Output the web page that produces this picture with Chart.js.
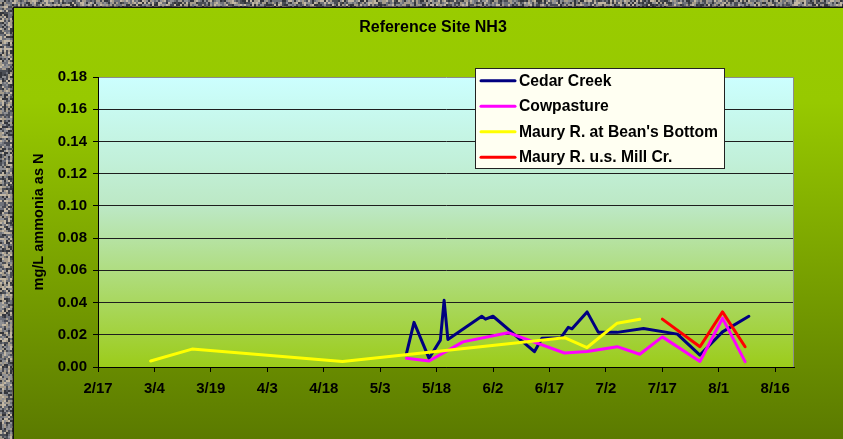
<!DOCTYPE html>
<html>
<head>
<meta charset="utf-8">
<script src="https://cdn.jsdelivr.net/npm/chart.js@4"></script>
<style>
  html, body { margin: 0; padding: 0; background: #5f6167; }
  #wrap { position: relative; width: 843px; height: 439px; }
  canvas { display: block; }
</style>
</head>
<body>
<div id="wrap"><canvas id="c" width="843" height="439"></canvas></div>
<script>
// ---- data ----
const chartTitle = 'Reference Site NH3';
const yAxisTitle = 'mg/L ammonia as N';
const tickLabels = ['2/17','3/4','3/19','4/3','4/18','5/3','5/18','6/2','6/17','7/2','7/17','8/1','8/16'];

const seriesNames = ['Cedar Creek', 'Cowpasture', "Maury R. at Bean's Bottom", 'Maury R. u.s. Mill Cr.'];

const cedarDates  = ['5/10','5/12','5/16','5/19','5/20','5/21','5/30','5/31','6/2','6/13','6/15','6/20','6/22','6/23','6/27','6/30','7/5','7/12','7/21','7/27','8/2','8/9'];
const cedarValues = [0.0085,0.0277,0.0054,0.0167,0.0414,0.0171,0.0315,0.0297,0.0315,0.0095,0.0178,0.0181,0.0246,0.0237,0.0342,0.0215,0.0215,0.0239,0.0204,0.0074,0.0218,0.0315];

const cowDates  = ['5/10','5/16','5/25','6/6','6/21','6/27','7/5','7/11','7/17','7/27','8/2','8/8'];
const cowValues = [0.0054,0.0037,0.0156,0.0213,0.0087,0.0096,0.0126,0.0079,0.0187,0.0034,0.0303,0.0033];

const beanDates  = ['3/3','3/14','4/23','6/21','6/27','7/5','7/11'];
const beanValues = [0.0037,0.0111,0.0034,0.0182,0.0121,0.0272,0.0297];

const millDates  = ['7/17','7/27','8/2','8/8'];
const millValues = [0.0297,0.0126,0.0342,0.0126];

const seriesColors = ['#000080', '#ff00ff', '#ffff00', '#ff0000'];

// ---- helpers ----
// days elapsed since 2/17 (non-leap year)
const monthOffset = {2: -17, 3: 11, 4: 42, 5: 72, 6: 103, 7: 133, 8: 164};
function dayOf(s) {
  const [m, d] = s.split('/').map(Number);
  return monthOffset[m] + d;
}
function toPoints(dates, values) {
  return dates.map((d, i) => ({x: dayOf(d), y: values[i]}));
}

const FONT = "'Liberation Sans', Arial, Helvetica, sans-serif";

// background: stone texture strip + green panel + plot gradient
const backgroundPlugin = {
  id: 'bg',
  beforeDraw(chart) {
    const ctx = chart.ctx;
    const W = chart.width, H = chart.height;
    ctx.save();
    ctx.fillStyle = '#5a5d66';
    ctx.fillRect(0, 0, W, H);
    const cols = ['#8e8f92', '#c2b7a4', '#34363c', '#6e7179', '#4a4d55', '#a59c8c'];
    for (let y = 0; y < H; y += 2) {
      for (let x = 0; x < 14; x += 2) {
        const h = Math.abs(Math.sin(x * 12.9898 + y * 78.233) * 43758.5453) % 1;
        ctx.fillStyle = cols[Math.floor(h * cols.length)];
        ctx.fillRect(x, y, 2, 2);
      }
    }
    for (let x = 0; x < W; x += 2) {
      for (let y = 0; y < 8; y += 2) {
        const h = Math.abs(Math.sin(x * 12.9898 + y * 78.233) * 43758.5453) % 1;
        ctx.fillStyle = cols[Math.floor(h * cols.length)];
        ctx.fillRect(x, y, 2, 2);
      }
    }
    // green panel
    const g = ctx.createLinearGradient(0, 7, 0, H);
    g.addColorStop(0, '#99cc00');
    g.addColorStop(0.22, '#97c900');
    g.addColorStop(1, '#5b7a00');
    ctx.fillStyle = g;
    ctx.fillRect(13, 7, W - 13, H - 7);
    ctx.strokeStyle = '#111';
    ctx.lineWidth = 1.5;
    ctx.beginPath();
    ctx.moveTo(13.25, H);
    ctx.lineTo(13.25, 7.25);
    ctx.lineTo(W, 7.25);
    ctx.stroke();
    // plot area gradient
    const a = chart.chartArea;
    const pg = ctx.createLinearGradient(0, a.top, 0, a.bottom);
    pg.addColorStop(0, '#ccffff');
    pg.addColorStop(0.45, '#bce8c4');
    pg.addColorStop(1, '#9ccc1a');
    ctx.fillStyle = pg;
    ctx.fillRect(a.left, a.top, a.right - a.left, a.bottom - a.top);
    // chart title
    ctx.fillStyle = '#000';
    ctx.font = 'bold 16px ' + FONT;
    ctx.textAlign = 'center';
    ctx.textBaseline = 'middle';
    ctx.fillText(chartTitle, 433, 28);
    ctx.restore();
  },
  beforeDatasetsDraw(chart) {
    const ctx = chart.ctx, a = chart.chartArea;
    ctx.save();
    ctx.strokeStyle = '#8c8c8c';
    ctx.lineWidth = 1;
    ctx.beginPath();
    ctx.moveTo(Math.round(a.right) - 0.5, a.top);
    ctx.lineTo(Math.round(a.right) - 0.5, a.bottom);
    ctx.stroke();
    ctx.restore();
  }
};

// legend drawn as a box overlapping the plot, as in the reference
const legendBoxPlugin = {
  id: 'legendBox',
  afterDraw(chart) {
    const ctx = chart.ctx;
    const bx = 475.5, by = 68.5, bw = 249, bh = 100;
    ctx.save();
    ctx.fillStyle = '#fffff2';
    ctx.fillRect(bx, by, bw, bh);
    ctx.strokeStyle = '#222';
    ctx.lineWidth = 1;
    ctx.strokeRect(bx, by, bw, bh);
    chart.data.datasets.forEach((ds, i) => {
      const y = 80.7 + i * 25.5;
      ctx.strokeStyle = ds.borderColor;
      ctx.lineWidth = 3;
      ctx.lineCap = 'round';
      ctx.beginPath();
      ctx.moveTo(481, y);
      ctx.lineTo(515, y);
      ctx.stroke();
      ctx.fillStyle = '#000';
      ctx.font = 'bold 15.7px ' + FONT;
      ctx.textBaseline = 'middle';
      ctx.textAlign = 'left';
      ctx.fillText(ds.label, 519, y + 0.5);
    });
    ctx.restore();
  }
};

const seriesDates = [cedarDates, cowDates, beanDates, millDates];
const seriesValues = [cedarValues, cowValues, beanValues, millValues];

const datasets = seriesNames.map((name, i) => ({
  label: name,
  data: toPoints(seriesDates[i], seriesValues[i]),
  borderColor: seriesColors[i],
  backgroundColor: seriesColors[i],
  borderWidth: 3,
  pointRadius: 0,
  pointHoverRadius: 0,
  tension: 0,
  fill: false,
  borderJoinStyle: 'round',
  borderCapStyle: 'round',
  order: seriesNames.length - i
}));

new Chart(document.getElementById('c'), {
  type: 'line',
  data: { datasets },
  options: {
    responsive: false,
    devicePixelRatio: 1,
    animation: false,
    events: [],
    layout: { padding: { left: 13, top: 77, right: 49, bottom: 0 } },
    plugins: {
      legend: { display: false },
      tooltip: { enabled: false },
      title: { display: false }
    },
    scales: {
      x: {
        type: 'linear',
        min: 0,
        max: 185,
        afterBuildTicks(scale) {
          scale.ticks = tickLabels.map((l, i) => ({ value: i * 15 }));
        },
        afterFit(scale) { scale.height = 72; },
        ticks: {
          callback: (v) => tickLabels[Math.round(v / 15)] || '',
          color: '#000',
          font: { family: FONT, size: 15, weight: 'bold' },
          padding: 8,
          maxRotation: 0,
          autoSkip: false
        },
        grid: {
          display: true,
          drawOnChartArea: false,
          drawTicks: true,
          tickLength: 5,
          tickColor: '#000'
        },
        border: { display: true, color: '#000', width: 1 }
      },
      y: {
        min: 0,
        max: 0.18,
        afterFit(scale) { scale.width = 85; },
        ticks: {
          stepSize: 0.02,
          callback: (v) => Number(v).toFixed(2),
          color: '#000',
          font: { family: FONT, size: 15, weight: 'bold' },
          padding: 6
        },
        grid: {
          color: (c) => (c.tick && Math.abs(c.tick.value - 0.18) < 1e-9) ? '#8c8c8c' : '#1e1e1e',
          lineWidth: 1,
          tickLength: 5,
          tickColor: '#000'
        },
        border: { display: true, color: '#000', width: 1 },
        title: {
          display: true,
          text: yAxisTitle,
          color: '#000',
          font: { family: FONT, size: 14.5, weight: 'bold', lineHeight: 1.2 },
          padding: { top: 17, bottom: 0 }
        }
      }
    }
  },
  plugins: [backgroundPlugin, legendBoxPlugin]
});
</script>
</body>
</html>
